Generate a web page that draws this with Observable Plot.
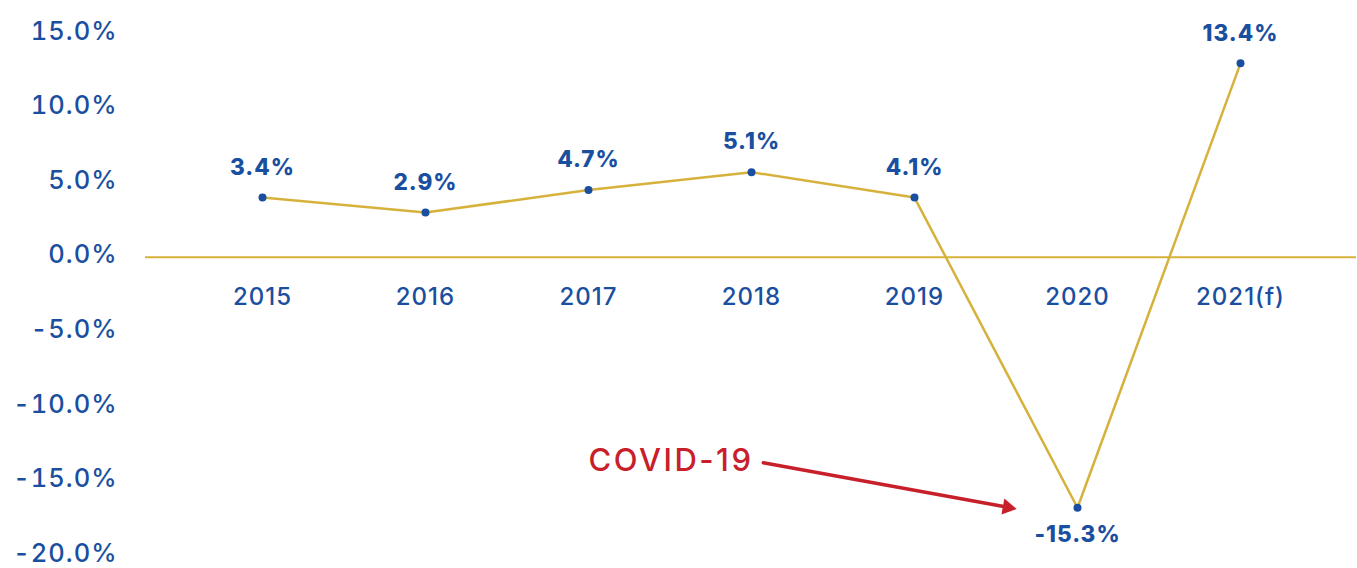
<!DOCTYPE html>
<html>
<head>
<meta charset="utf-8">
<script src="https://cdn.jsdelivr.net/npm/d3@7"></script>
<script src="https://cdn.jsdelivr.net/npm/@observablehq/plot@0.6"></script>
<style>
  html, body { margin: 0; padding: 0; background: #fff; }
  #chart svg { display: block; }
  #chart svg text { letter-spacing: 1px; }
  #chart svg g.covid text { letter-spacing: 2.5px; }
</style>
</head>
<body>
<div id="chart"></div>
<script>
const years = ["2015", "2016", "2017", "2018", "2019", "2020", "2021(f)"];
const plotted = [4.0, 3.0, 4.5, 5.7, 4.0, -16.8, 13.0];   // point positions as drawn
const labels = ["3.4%", "2.9%", "4.7%", "5.1%", "4.1%", "-15.3%", "13.4%"];
const yTicks = [-20, -15, -10, -5, 0, 5, 10, 15];
const note = "COVID-19";

const blue = "#1a4fa0";
const gold = "#d6b23c";
const red = "#c8202a";

const data = years.map((y, i) => ({year: y, value: plotted[i], label: labels[i]}));
const above = data.filter(d => d.value >= 0);
const below = data.filter(d => d.value < 0);

const chart = Plot.plot({
  width: 1357,
  height: 568,
  marginLeft: 145,
  marginRight: 1,
  marginTop: 33,
  marginBottom: 13,
  style: {fontFamily: "Inter, 'Open Sans', sans-serif", background: "#fff"},
  x: {type: "point", domain: years, padding: 0.7, axis: null},
  y: {domain: [-20, 15], axis: null},
  marks: [
    Plot.axisY({
      ticks: yTicks, tickSize: 0, tickPadding: 28, dy: -2,
      tickFormat: d => d.toFixed(1) + "%",
      fill: blue, fontSize: 25.5, fontWeight: 500
    }),
    Plot.ruleY([0], {stroke: gold, strokeWidth: 2}),
    Plot.text(years, {x: d => d, y: () => 0, dy: 40, fill: blue, fontSize: 24, fontWeight: 500}),
    Plot.line(data, {x: "year", y: "value", stroke: gold, strokeWidth: 2.5}),
    Plot.dot(data, {x: "year", y: "value", r: 4, fill: blue}),
    Plot.text(above, {x: "year", y: "value", text: "label", dy: -30, fill: blue, fontSize: 22.5, fontWeight: 800}),
    Plot.text(below, {x: "year", y: "value", text: "label", dy: 27, fill: blue, fontSize: 22.5, fontWeight: 800}),
    Plot.arrow([{x1: "2018", y1: -13.64, x2: "2020", y2: -17.62}], {
      x1: "x1", y1: "y1", x2: "x2", y2: "y2",
      bend: 0, stroke: red, strokeWidth: 3.5, headLength: 0,
      insetStart: 12, insetEnd: 68
    }),
    Plot.dot([{x: "2020", y: -17.62}], {
      x: "x", y: "y", dx: -70, dy: -12.7, symbol: "triangle", r: 6,
      fill: red, stroke: "none", rotate: 100.3
    }),
    Plot.text([note], {x: () => "2018", y: () => -13.8, text: d => d, textAnchor: "end", dx: 2, dy: -2, fill: red, fontSize: 31, fontWeight: 500, className: "covid"})
  ]
});
document.getElementById("chart").appendChild(chart);
</script>
</body>
</html>
